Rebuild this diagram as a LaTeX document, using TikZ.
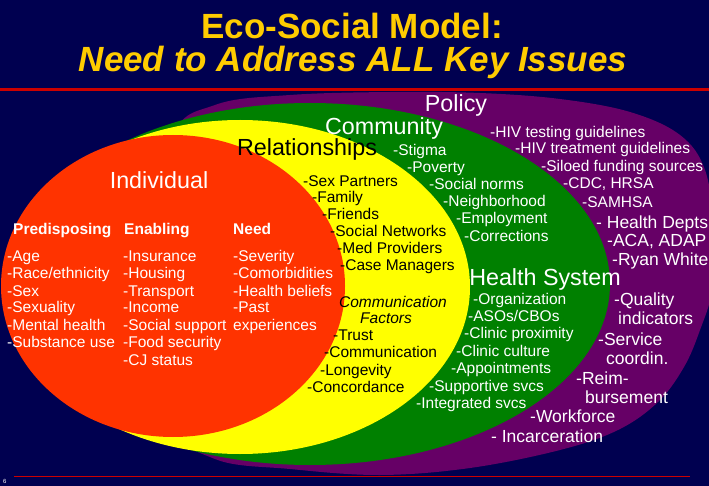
\documentclass[tikz,border=0pt]{standalone}
\usepackage{fontspec}
\setmainfont{Liberation Sans}
\usepackage{tikz}
\usepackage{xcolor}
\definecolor{NavyBg}{HTML}{000050}
\definecolor{TitleYellow}{HTML}{FFCC00}
\definecolor{LineRed}{HTML}{CC0000}
\definecolor{PolicyPurple}{HTML}{660066}
\definecolor{CommGreen}{HTML}{008000}
\definecolor{RelYellow}{HTML}{FFFF00}
\definecolor{IndRed}{HTML}{FF3300}
\tikzset{
    ttl/.style={font=\fontsize{35}{40}\selectfont\bfseries, text=TitleYellow, anchor=base, inner sep=0pt},
    lbl/.style={font=\fontsize{23.3}{28}\selectfont, text=white, anchor=base, inner sep=0pt},
    lbl_k/.style={lbl, text=black},
    txt/.style={font=\fontsize{15.5}{18}\selectfont, text=white, anchor=base west, inner sep=0pt},
    txt_k/.style={txt, text=black},
    txt_l/.style={font=\fontsize{17.5}{20}\selectfont, text=white, anchor=base west, inner sep=0pt},
    hdr/.style={txt, font=\fontsize{15.5}{18}\selectfont\bfseries},
}

\begin{document}
\begin{tikzpicture}[x=1pt, y=-1pt]

% Slide background
\fill[NavyBg] (0,0) rectangle (709,486);
\clip (0,0) rectangle (709,486);

% Title
\node[ttl] (title1) at (352,39) {Eco-Social Model:};
\node[ttl] (title2) at (353,72) {\itshape Need to Address ALL Key Issues};

% Nested levels
\fill[PolicyPurple] plot[smooth cycle, tension=0.6] coordinates {
    (290,95) (390,92) (480,93) (560,99) (630,112) (680,135) (705,170)
    (714,230) (712,290) (700,330) (684,367) (658,402) (618,430)
    (560,450) (470,468) (380,475) (290,469) (215,459) (170,420)
    (135,283) (170,140) (215,105)};
\fill[CommGreen] (310,284) ellipse [x radius=300, y radius=181];
\fill[RelYellow] (240,287) ellipse [x radius=230, y radius=167];
\fill[IndRed] (173,286) ellipse [x radius=172, y radius=151];
\fill[LineRed] (0,88.5) rectangle (709,91.5);

% Level names
\node[lbl] (policy) at (456,111.4) {Policy};
\node[lbl] (community) at (384,134.4) {Community};
\node[lbl_k] (relations) at (307,155.4) {Relationships};
\node[lbl] (individual) at (159,188.4) {Individual};
\node[lbl] (health) at (545,285.4) {Health System};

% Policy
\node[txt] (pol_test) at (490,137.6) {-HIV testing guidelines};
\node[txt] (pol_treat) at (515,153.6) {-HIV treatment guidelines};
\node[txt] (pol_silo) at (541,171.6) {-Siloed funding sources};
\node[txt] (pol_cdc) at (563,188.6) {-CDC, HRSA};
\node[txt] (pol_samhsa) at (582,207.6) {-SAMHSA};
\node[txt_l] (pol_dept) at (596,228.3) {- Health Depts};
\node[txt_l] (pol_aca) at (607,246.3) {-ACA, ADAP};
\node[txt_l] (pol_ryan) at (612,265.3) {-Ryan White};
\node[txt_l] (pol_qual) at (614,305.3) {-Quality};
\node[txt_l] (pol_qual2) at (618,324.3) {indicators};
\node[txt_l] (pol_serv) at (598,345.3) {-Service};
\node[txt_l] (pol_serv2) at (606,364.3) {coordin.};
\node[txt_l] (pol_reim) at (576,384.3) {-Reim-};
\node[txt_l] (pol_reim2) at (585,403.3) {bursement};
\node[txt_l] (pol_work) at (530,422.3) {-Workforce};
\node[txt_l] (pol_jail) at (491,442.3) {- Incarceration};

% Community
\node[txt] (com_stigma) at (393,155.6) {-Stigma};
\node[txt] (com_pov) at (407,172.6) {-Poverty};
\node[txt] (com_norms) at (429,189.6) {-Social norms};
\node[txt] (com_hood) at (443,206.6) {-Neighborhood};
\node[txt] (com_emp) at (456,223.6) {-Employment};
\node[txt] (com_corr) at (464,241.6) {-Corrections};

% Health system
\node[txt] (hs_org) at (473,304.6) {-Organization};
\node[txt] (hs_aso) at (468,321.6) {-ASOs/CBOs};
\node[txt] (hs_prox) at (464,338.6) {-Clinic proximity};
\node[txt] (hs_cult) at (456,356.6) {-Clinic culture};
\node[txt] (hs_appt) at (451,373.6) {-Appointments};
\node[txt] (hs_supp) at (429,391.6) {-Supportive svcs};
\node[txt] (hs_integ) at (416,408.6) {-Integrated svcs};

% Relationships
\node[txt_k] (rel_sex) at (303,186.6) {-Sex Partners};
\node[txt_k] (rel_fam) at (312,202.6) {-Family};
\node[txt_k] (rel_friend) at (322,219.6) {-Friends};
\node[txt_k] (rel_net) at (330,236.6) {-Social Networks};
\node[txt_k] (rel_med) at (337,253.6) {-Med Providers};
\node[txt_k] (rel_case) at (340,270.6) {-Case Managers};
\node[txt_k, anchor=base] (rel_cf) at (393,307.6) {\itshape Communication};
\node[txt_k, anchor=base] (rel_cf2) at (386,323.6) {\itshape Factors};
\node[txt_k] (rel_trust) at (333,340.6) {-Trust};
\node[txt_k] (rel_comm) at (324,357.6) {-Communication};
\node[txt_k] (rel_long) at (320,375.6) {-Longevity};
\node[txt_k] (rel_conc) at (307,392.6) {-Concordance};

% Individual
\node[hdr] (ind_pre) at (13,234.6) {Predisposing};
\node[hdr] (ind_ena) at (124,234.6) {Enabling};
\node[hdr] (ind_need) at (233,234.6) {Need};

\node[txt] (pre_age) at (7,261.6) {-Age};
\node[txt] (pre_race) at (7,278.9) {-Race/ethnicity};
\node[txt] (pre_sex) at (7,296.3) {-Sex};
\node[txt] (pre_sexu) at (7,312.9) {-Sexuality};
\node[txt] (pre_mh) at (7,330.3) {-Mental health};
\node[txt] (pre_sub) at (7,347.9) {-Substance use};

\node[txt] (ena_ins) at (123,261.6) {-Insurance};
\node[txt] (ena_hous) at (123,278.9) {-Housing};
\node[txt] (ena_trans) at (123,296.3) {-Transport};
\node[txt] (ena_inc) at (123,312.9) {-Income};
\node[txt] (ena_soc) at (123,330.3) {-Social support};
\node[txt] (ena_food) at (123,347.9) {-Food security};
\node[txt] (ena_cj) at (123,365.6) {-CJ status};

\node[txt] (need_sev) at (233,261.6) {-Severity};
\node[txt] (need_com) at (233,278.9) {-Comorbidities};
\node[txt] (need_bel) at (233,296.3) {-Health beliefs};
\node[txt] (need_past) at (233,312.9) {-Past};
\node[txt] (need_exp) at (233,330.3) {experiences};

% Footer
\fill[LineRed] (14,475.5) rectangle (690,477);
\node[txt, font=\fontsize{6}{7}\selectfont] (pagenum) at (3,483) {6};

\end{tikzpicture}
\end{document}
